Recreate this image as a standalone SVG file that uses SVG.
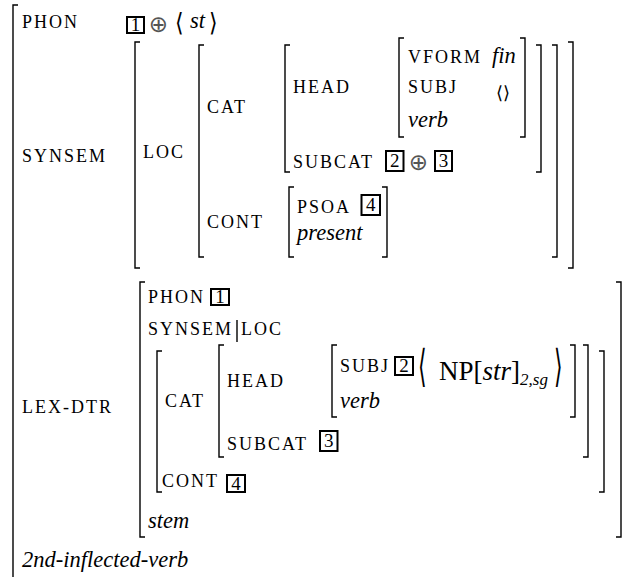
<svg xmlns="http://www.w3.org/2000/svg" width="627" height="577" viewBox="0 0 627 577">
<style>
.sc{font-family:"Liberation Serif","Times New Roman",serif;font-size:18px;letter-spacing:2px;fill:#000}
.it{font-family:"Liberation Serif","Times New Roman",serif;font-size:22.5px;font-style:italic;fill:#000}
.num{font-family:"Liberation Serif","Times New Roman",serif;font-size:19px;fill:#000;text-anchor:middle}
.sym{font-family:"DejaVu Sans",sans-serif;fill:#000}
.op{font-family:"DejaVu Sans",sans-serif;font-size:23px;fill:#555;text-anchor:middle}
.br{fill:none;stroke:#000;stroke-width:1.4}
.tag{fill:none;stroke:#000;stroke-width:2}
</style>
<rect width="627" height="577" fill="#fff"/>
<g id="brackets">
<path class="br" d="M18,5 H13 V577"/>
<path class="br" d="M140,42 H135 V268 H140"/><path class="br" d="M568,42 H573 V268 H568"/>
<path class="br" d="M204,45 H199 V257 H204"/><path class="br" d="M552,45 H557 V257 H552"/>
<path class="br" d="M290,45 H285 V172 H290"/><path class="br" d="M536,45 H541 V172 H536"/>
<path class="br" d="M404,38 H399 V137 H404"/><path class="br" d="M520,38 H525 V137 H520"/>
<path class="br" d="M294,187 H289 V257 H294"/><path class="br" d="M382,187 H387 V257 H382"/>
<path class="br" d="M145,282 H140 V537 H145"/><path class="br" d="M616,282 H621 V537 H616"/>
<path class="br" d="M162,351 H157 V492 H162"/><path class="br" d="M599,351 H604 V492 H599"/>
<path class="br" d="M224,345 H219 V457 H224"/><path class="br" d="M583,345 H588 V457 H583"/>
<path class="br" d="M337,345 H332 V417 H337"/><path class="br" d="M570,345 H575 V417 H570"/>
</g>
<g id="top">
<text class="sc" x="22" y="28">PHON</text>
<rect class="tag" x="127" y="17" width="17" height="16"/><text class="num" x="135.5" y="31">1</text>
<text class="op" x="158.5" y="32">⊕</text>
<text class="sym" transform="translate(175,31) scale(1,1.15)" font-size="22">⟨</text>
<text class="it" x="190" y="28">st</text>
<text class="sym" transform="translate(209,31) scale(1,1.15)" font-size="22">⟩</text>
<text class="sc" x="22" y="162">SYNSEM</text>
<text class="sc" x="143" y="158">LOC</text>
<text class="sc" x="207" y="113">CAT</text>
<text class="sc" x="293" y="93">HEAD</text>
<text class="sc" x="408" y="63">VFORM</text>
<text class="it" x="492" y="63">fin</text>
<text class="sc" x="408" y="93">SUBJ</text>
<text class="sym" x="496" y="99" font-size="18">⟨⟩</text>
<text class="it" x="408" y="127">verb</text>
<text class="sc" x="293" y="168">SUBCAT</text>
<rect class="tag" x="386" y="151" width="17.5" height="20"/><text class="num" x="394.7" y="167">2</text>
<text class="op" x="418.5" y="170">⊕</text>
<rect class="tag" x="435" y="151" width="17" height="20"/><text class="num" x="443.5" y="167">3</text>
<text class="sc" x="207" y="228">CONT</text>
<text class="sc" x="297" y="213">PSOA</text>
<rect class="tag" x="361.5" y="195" width="18.5" height="20"/><text class="num" x="370.7" y="211">4</text>
<text class="it" x="297" y="240">present</text>
</g>
<g id="lexdtr">
<text class="sc" x="22" y="413">LEX-DTR</text>
<text class="sc" x="148" y="303">PHON</text>
<rect class="tag" x="211" y="289" width="18" height="16"/><text class="num" x="220" y="303">1</text>
<text class="sc" x="148" y="335">SYNSEM</text>
<line class="br" x1="237" y1="320" x2="237" y2="342"/>
<text class="sc" x="241" y="335">LOC</text>
<text class="sc" x="165" y="407">CAT</text>
<text class="sc" x="227" y="387">HEAD</text>
<text class="sc" x="340" y="372">SUBJ</text>
<rect class="tag" x="395" y="357" width="18" height="18"/><text class="num" x="404" y="372">2</text>
<text class="sym" transform="translate(418,381) scale(1,2)" font-size="22">⟨</text>
<text x="439" y="380" style="font-family:'Liberation Serif',serif;font-size:27px">NP[<tspan font-style="italic">str</tspan>]<tspan font-size="17" font-style="italic" dy="5">2,sg</tspan></text>
<text class="sym" transform="translate(554,381) scale(1,2)" font-size="22">⟩</text>
<text class="it" x="340" y="408">verb</text>
<text class="sc" x="227" y="450">SUBCAT</text>
<rect class="tag" x="320" y="431" width="17.5" height="20"/><text class="num" x="328.7" y="447">3</text>
<text class="sc" x="162" y="487">CONT</text>
<rect class="tag" x="227" y="475" width="18" height="17"/><text class="num" x="236" y="490">4</text>
<text class="it" x="148" y="528">stem</text>
</g>
<text class="it" x="22" y="567">2nd-inflected-verb</text>
</svg>
